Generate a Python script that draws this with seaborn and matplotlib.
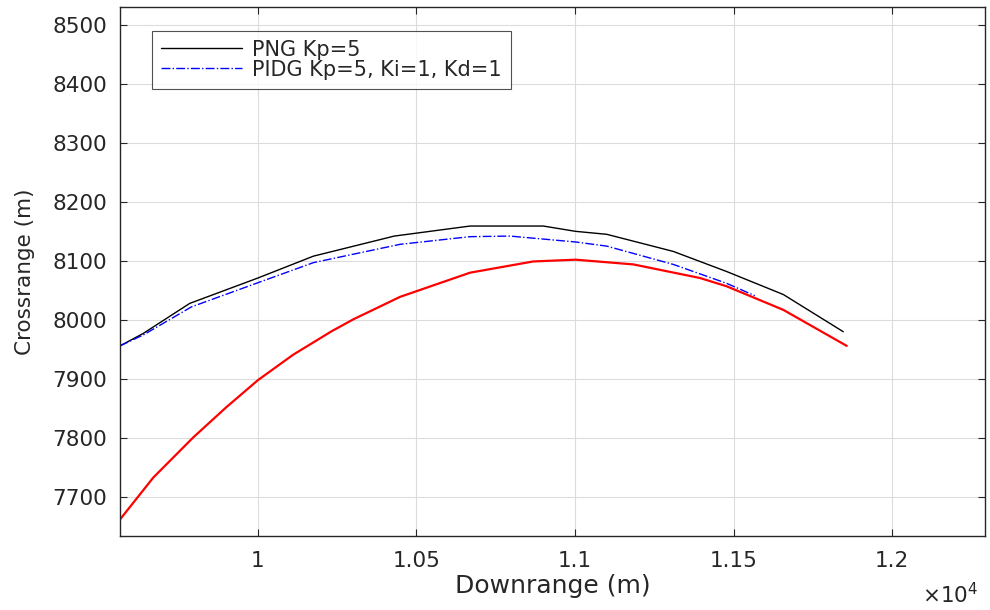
import matplotlib
matplotlib.use("Agg")
import matplotlib.pyplot as plt
import seaborn as sns
import pandas as pd

# PNG Kp=5 (black)
png_x = [9565, 9638, 9785, 10000, 10175, 10430, 10669, 10900, 11002, 11100, 11310, 11478, 11657, 11846]
png_y = [7956, 7977, 8028, 8071, 8108, 8142, 8159, 8159, 8150, 8145, 8116, 8082, 8043, 7980]

# PIDG Kp=5, Ki=1, Kd=1 (blue dash-dot)
pidg_x = [9565, 9640, 9790, 10000, 10175, 10448, 10669, 10795, 11002, 11100, 11310, 11478, 11567]
pidg_y = [7956, 7975, 8022, 8063, 8097, 8128, 8141, 8142, 8132, 8125, 8094, 8062, 8041]

# Reference trajectory (red)
ref_x = [9565, 9670, 9796, 9900, 10000, 10111, 10233, 10301, 10448, 10669, 10868, 11002, 11184, 11394, 11478, 11657, 11857]
ref_y = [7662, 7733, 7801, 7852, 7898, 7941, 7981, 8001, 8039, 8080, 8099, 8102, 8094, 8071, 8057, 8017, 7956]

x_ticks = [10000, 10500, 11000, 11500, 12000]
x_tick_labels = ["1", "1.05", "1.1", "1.15", "1.2"]
y_ticks = [7700, 7800, 7900, 8000, 8100, 8200, 8300, 8400, 8500]

sns.set_style("white")
plt.rcParams["font.family"] = ["DejaVu Sans"]
plt.rcParams["mathtext.fontset"] = "dejavusans"

fig = plt.figure(figsize=(9.9, 6.1), dpi=100)
ax = fig.add_axes([120/990, 1-536/610, (985-120)/990, (536-7)/610])

df_png = pd.DataFrame({"x": png_x, "y": png_y})
df_pidg = pd.DataFrame({"x": pidg_x, "y": pidg_y})
df_ref = pd.DataFrame({"x": ref_x, "y": ref_y})

sns.lineplot(data=df_png, x="x", y="y", sort=False, estimator=None, ax=ax,
             color="black", linewidth=1.0, label="PNG Kp=5")
sns.lineplot(data=df_pidg, x="x", y="y", sort=False, estimator=None, ax=ax,
             color="#0000ff", linewidth=1.0, linestyle="-.", label="PIDG Kp=5, Ki=1, Kd=1")
sns.lineplot(data=df_ref, x="x", y="y", sort=False, estimator=None, ax=ax,
             color="#ff0000", linewidth=1.6, label="_nolegend_")

ax.set_xlim(9565, 12293)
ax.set_ylim(7634, 8530)
ax.set_xticks(x_ticks)
ax.set_xticklabels(x_tick_labels)
ax.set_yticks(y_ticks)
ax.grid(True, color="#dcdcdc", linewidth=0.8)
ax.set_axisbelow(True)
for s in ax.spines.values():
    s.set_visible(True)
    s.set_color("#262626")
    s.set_linewidth(1.0)
ax.tick_params(direction="in", length=5, width=0.8, color="#262626",
               labelsize=15.5, labelcolor="#262626", top=True, right=True,
               left=True, bottom=True)
ax.tick_params(axis="x", pad=11)
ax.tick_params(axis="y", pad=9)
ax.set_xlabel("Downrange (m)", fontsize=18, color="#262626", labelpad=2)
ax.set_ylabel("Crossrange (m)", fontsize=15.5, color="#262626", labelpad=12.5)

fig.text(978/990, 1-595/610, r"$\times$10$^4$", ha="right", va="center", fontsize=15.5, color="#262626")

leg = ax.legend(loc="upper left", bbox_to_anchor=((152-120)/865, 1-(31-7)/529),
                fontsize=15, frameon=True, fancybox=False, edgecolor="#262626",
                handlelength=3.9, handletextpad=0.5, borderpad=0.42, labelspacing=0.0,
                borderaxespad=0)
leg.get_frame().set_linewidth(0.8)
for t in leg.get_texts():
    t.set_color("#262626")

fig.savefig("out.png", dpi=100)
